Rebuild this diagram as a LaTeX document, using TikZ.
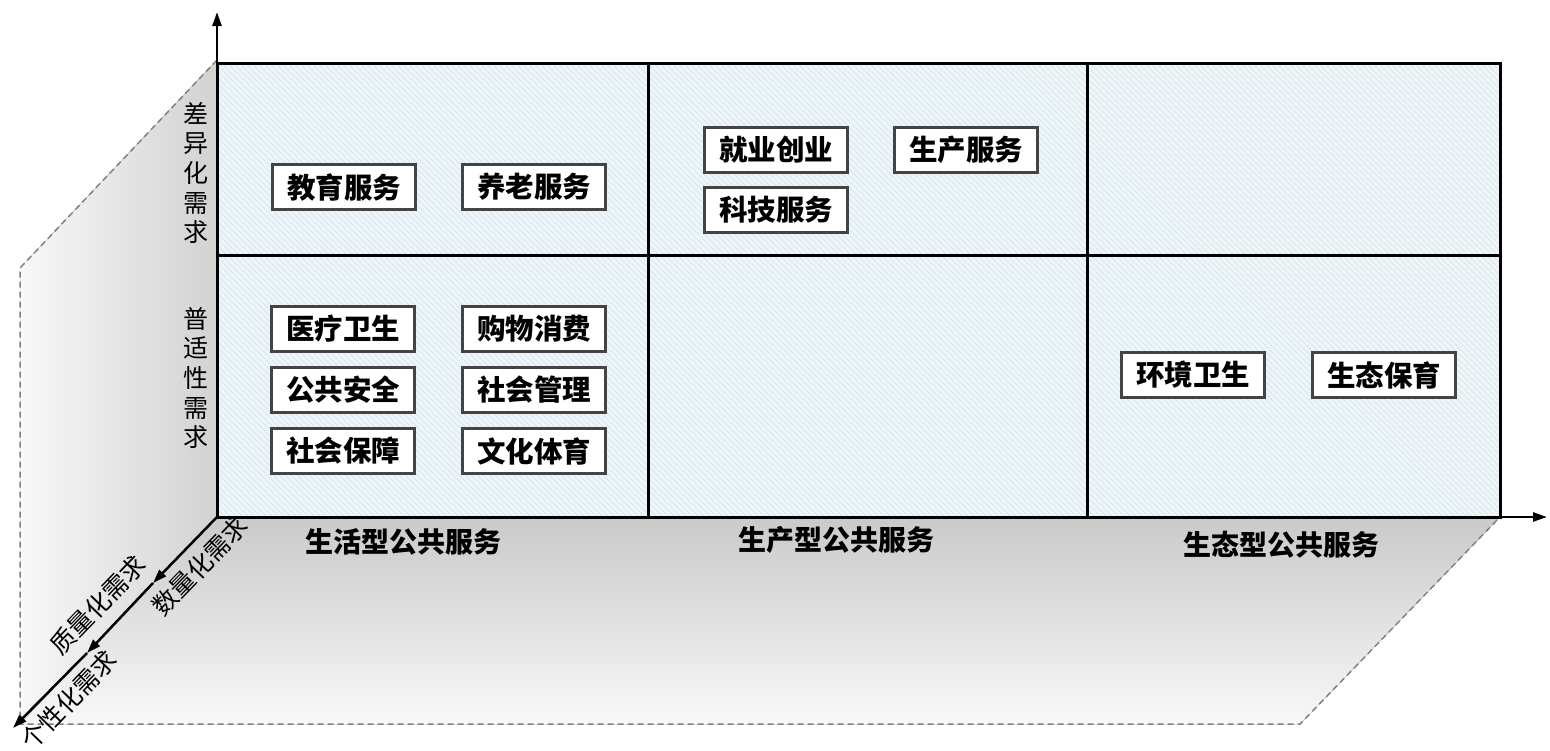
\documentclass[tikz,border=0pt]{standalone}
\usepackage{fontspec}
\newfontfamily\cjk{Noto Sans CJK SC}
\usetikzlibrary{patterns.meta,arrows.meta}
\definecolor{cellbg}{HTML}{EEF5F8}
\definecolor{hatch}{HTML}{D3E2EA}
\definecolor{dashgray}{HTML}{808080}
\definecolor{boxedge}{HTML}{444444}
\definecolor{wallgray}{HTML}{D2D2D2}
\definecolor{floorgray}{HTML}{CACACA}
\definecolor{paleg}{HTML}{F8F8F8}
\begin{document}
\begin{tikzpicture}[x=1pt,y=-1pt,
  svc/.style={draw=boxedge,line width=2.5pt,fill=white,minimum width=143pt,minimum height=45pt,inner sep=0pt,font=\cjk\bfseries\fontsize{28.5}{30}\selectfont},
  collab/.style={font=\cjk\bfseries\fontsize{28}{30}\selectfont,inner sep=0pt},
  rowlab/.style={font=\cjk\fontsize{25}{29.7}\selectfont,align=center,inner sep=0pt},
  diaglab/.style={font=\cjk\fontsize{25}{27}\selectfont,rotate=46,inner sep=0pt},
  gridline/.style={line width=3pt,black},
  dashb/.style={dashgray,line width=1.5pt,dash pattern=on 6pt off 4pt},
  axisarrow/.style={line width=2.5pt,-{Triangle[length=14pt,width=9pt]}}
]
\useasboundingbox (0,0) rectangle (1550,750);
% corner coordinates
\coordinate (O) at (217,517);
\coordinate (TL) at (217,63);
\coordinate (TR) at (1500,63);
\coordinate (BR) at (1500,517);
\coordinate (WT) at (217,60);
\coordinate (WL) at (20,268);
\coordinate (WB) at (20,724);
\coordinate (FR) at (1300,724);
\coordinate (YE) at (217,12);
\coordinate (XE) at (1547,517);
\coordinate (Q1) at (153,583);
\coordinate (Q2) at (87,653);
\coordinate (ZE) at (13,728);
% wall and floor
\fill[left color=paleg,right color=wallgray] (WT) -- (WL) -- (WB) -- (O) -- cycle;
\fill[top color=floorgray,bottom color=paleg] (O) -- (BR) -- (FR) -- (WB) -- cycle;
\draw[dashb] (WT) -- (WL) -- (WB) -- (FR) -- (BR);
% cells
\fill[cellbg] (TL) rectangle (BR);
\fill[pattern={Lines[angle=-45,distance=4pt,line width=0.8pt]},pattern color=hatch] (TL) rectangle (BR);
\draw[gridline] (TL) rectangle (BR);
\draw[gridline] (217,255) -- (1500,255);
\draw[gridline] (648,63) -- (648,517);
\draw[gridline] (1087,63) -- (1087,517);
% axes
\draw[axisarrow] (O) -- (YE);
\draw[axisarrow] (O) -- (XE);
\draw[axisarrow] (O) -- (Q1);
\draw[axisarrow] (Q1) -- (Q2);
\draw[axisarrow] (Q2) -- (ZE);
% boxes
\node[svc] (b1) at (344,187) {教育服务};
\node[svc] (b2) at (534,187) {养老服务};
\node[svc] (b3) at (776,150) {就业创业};
\node[svc] (b4) at (966,150) {生产服务};
\node[svc] (b5) at (776,210) {科技服务};
\node[svc] (b6) at (343,329) {医疗卫生};
\node[svc] (b7) at (534,329) {购物消费};
\node[svc] (b8) at (343,390) {公共安全};
\node[svc] (b9) at (534,390) {社会管理};
\node[svc] (b10) at (343,451) {社会保障};
\node[svc] (b11) at (534,451) {文化体育};
\node[svc] (b12) at (1193,375) {环境卫生};
\node[svc] (b13) at (1384,375) {生态保育};
% labels
\node[rowlab] (r1) at (196,173) {差\\异\\化\\需\\求};
\node[rowlab] (r2) at (196,378) {普\\适\\性\\需\\求};
\node[collab] (c1) at (403,542) {生活型公共服务};
\node[collab] (c2) at (836,540) {生产型公共服务};
\node[collab] (c3) at (1281,545) {生态型公共服务};
\node[diaglab] (d1) at (200,566) {数量化需求};
\node[diaglab] (d2) at (98,605) {质量化需求};
\node[diaglab] (d3) at (69,700) {个性化需求};
\end{tikzpicture}
\end{document}
